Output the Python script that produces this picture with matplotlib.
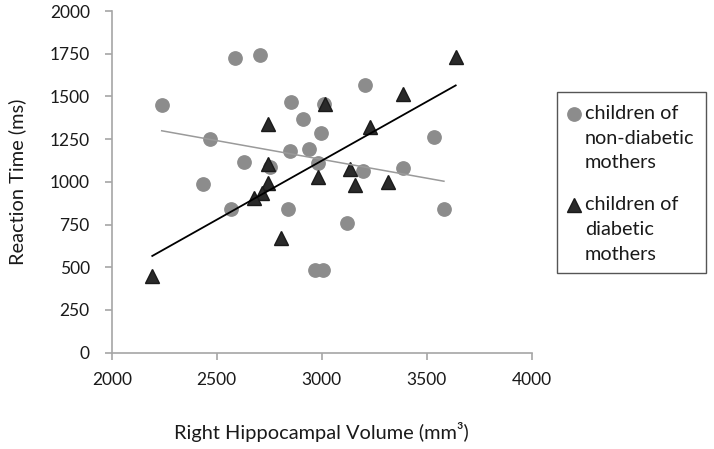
import numpy as np
import matplotlib
matplotlib.use("Agg")
import matplotlib.pyplot as plt
from matplotlib.lines import Line2D
from matplotlib.patches import Rectangle

plt.rcParams['font.family'] = ['Lato', 'DejaVu Sans']

# children of non-diabetic mothers
vol_nd = [2238, 2587, 2706, 2852, 3012, 2909, 2998, 2468, 2851, 2938,
          2631, 2754, 2984, 2436, 3206, 3535, 3198, 3387, 2568, 2841,
          2968, 3005, 3119, 3582]
rt_nd = [1450, 1727, 1742, 1466, 1454, 1366, 1284, 1251, 1182, 1190,
         1116, 1089, 1112, 989, 1567, 1264, 1063, 1083, 841, 841,
         484, 484, 761, 839]

# children of diabetic mothers
vol_d = [3016, 2743, 2743, 2984, 2743, 2717, 2678, 2806, 2193, 3638,
         3387, 3228, 3135, 3159, 3317]
rt_d = [1454, 1339, 1104, 1027, 995, 937, 904, 670, 449, 1729,
        1514, 1323, 1073, 982, 1001]

labels = ['children of\nnon-diabetic\nmothers', 'children of\ndiabetic\nmothers']
xticks = [2000, 2500, 3000, 3500, 4000]
yticks = [0, 250, 500, 750, 1000, 1250, 1500, 1750, 2000]

W, H = 714, 449
fig = plt.figure(figsize=(W / 100, H / 100), dpi=100)
ax = fig.add_axes([0.1565, 0.2145, 0.5882, 0.761])

styles = [dict(marker='o', ms=9.6, color='#8c8c8c', mec='#8c8c8c'),
          dict(marker='^', ms=9.5, color='#2a2a2a', mec='#1a1a1a')]

ax.plot(vol_nd, rt_nd, ls='none', zorder=3, **styles[0])
ax.plot(vol_d, rt_d, ls='none', zorder=4, **styles[1])

# linear trend lines
for vx, vy, c, lw in [(vol_nd, rt_nd, '#9a9a9a', 1.1), (vol_d, rt_d, 'black', 1.3)]:
    vx = np.array(vx)
    k, b = np.polyfit(vx, np.array(vy), 1)
    xs = np.array([vx.min(), vx.max()])
    ax.plot(xs, k * xs + b, color=c, lw=lw, zorder=5)

ax.set_xlim(2000, 4000)
ax.set_ylim(0, 2000)
ax.set_xticks(xticks)
ax.set_yticks(yticks)
for s in ['top', 'right']:
    ax.spines[s].set_visible(False)
for s in ['left', 'bottom']:
    ax.spines[s].set_color('#a6a6a6')
    ax.spines[s].set_linewidth(1.2)
ax.tick_params(direction='out', length=4.8, width=1.2, color='#a6a6a6',
               labelsize=12.5, labelcolor='#1a1a1a')
ax.tick_params(axis='y', pad=11)
ax.tick_params(axis='x', pad=9)

ax.set_xlabel('Right Hippocampal Volume (mm³)', fontsize=14.4, color='#1a1a1a')
ax.set_ylabel('Reaction Time (ms)', fontsize=14.4, color='#1a1a1a')
ax.xaxis.set_label_coords(0.5, -0.203)
ax.yaxis.set_label_coords(-0.203, 0.5)

# legend box drawn by hand so the marker sits on the first text line
fig.add_artist(Rectangle((556.7 / W, 1 - 273.3 / H), 149.3 / W, 181.6 / H,
                         transform=fig.transFigure, fill=False,
                         edgecolor='#555555', lw=1.0))
first_rows = [114, 205]
for lab, st, y0 in zip(labels, styles, first_rows):
    fig.add_artist(Line2D([573.5 / W], [1 - y0 / H], transform=fig.transFigure,
                          ls='none', **st))
    for i, line in enumerate(lab.split('\n')):
        fig.text(585 / W, 1 - (y0 + 24.5 * i) / H, line, fontsize=14.3,
                 color='#1a1a1a', va='center', ha='left')

fig.savefig('out.png', dpi=100)
